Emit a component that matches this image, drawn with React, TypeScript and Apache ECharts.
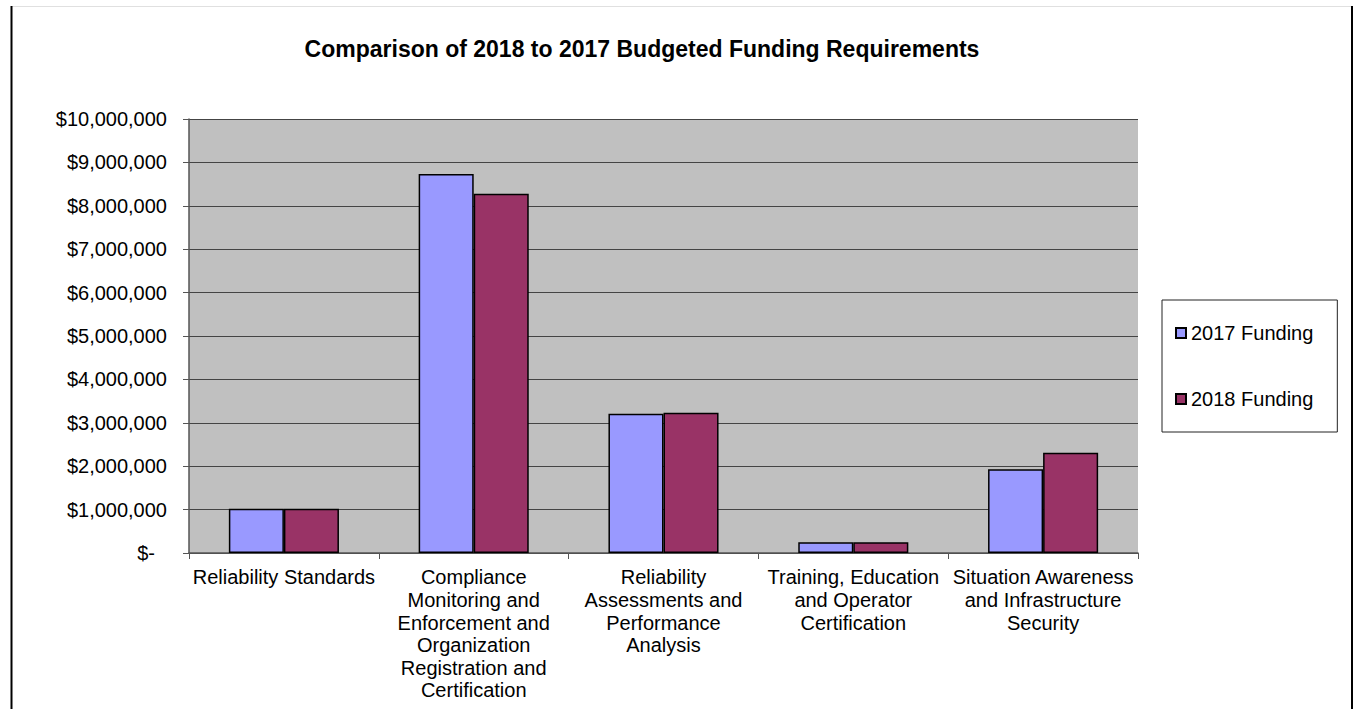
import React, { useEffect, useRef } from "react";
import * as echarts from "echarts";

const categories = [
  "Reliability Standards",
  "Compliance\nMonitoring and\nEnforcement and\nOrganization\nRegistration and\nCertification",
  "Reliability\nAssessments and\nPerformance\nAnalysis",
  "Training, Education\nand Operator\nCertification",
  "Situation Awareness\nand Infrastructure\nSecurity",
];
const funding2017 = [1020000, 8730000, 3210000, 250000, 1930000];
const funding2018 = [1020000, 8280000, 3230000, 250000, 2310000];
const seriesNames = ["2017 Funding", "2018 Funding"];
const titleText = "Comparison of 2018 to 2017 Budgeted Funding Requirements";

const FONT = "'Liberation Sans', Arial, sans-serif";

export default function App() {
  const ref = useRef<HTMLDivElement>(null);
  useEffect(() => {
    if (!ref.current) return;
    const chart = echarts.init(ref.current, null, { renderer: "svg" });
    chart.setOption({
      animation: false,
      backgroundColor: "#ffffff",
      title: {
        text: titleText,
        left: 637,
        textAlign: "center",
        top: 32,
        textStyle: { fontFamily: FONT, fontSize: 23, fontWeight: "bold", color: "#000" },
      },
      legend: {
        orient: "vertical",
        left: 1162,
        top: 300,
        padding: [22, 24, 22, 13],
        itemGap: 44,
        itemWidth: 10,
        itemHeight: 10,
        icon: "rect",
        backgroundColor: "#fff",
        borderColor: "#222",
        borderWidth: 1,
        borderRadius: 0,
        textStyle: { fontFamily: FONT, fontSize: 20, color: "#000", lineHeight: 22 },
        data: seriesNames,
      },
      grid: {
        left: 189,
        right: 218,
        top: 119,
        bottom: 156,
        show: true,
        backgroundColor: "#C0C0C0",
        borderWidth: 0,
      },
      xAxis: {
        type: "category",
        data: categories,
        axisLine: { show: true, lineStyle: { color: "#555", width: 1.5 } },
        axisTick: { show: true, length: 6, lineStyle: { color: "#555" } },
        axisLabel: {
          interval: 0,
          margin: 13,
          fontFamily: FONT,
          fontSize: 20,
          lineHeight: 22.6,
          color: "#000",
          align: "center",
        },
      },
      yAxis: {
        type: "value",
        min: 0,
        max: 10000000,
        interval: 1000000,
        axisLine: { show: true, lineStyle: { color: "#555", width: 1.5 } },
        axisTick: { show: true, length: 6, lineStyle: { color: "#555" } },
        splitLine: { show: true, lineStyle: { color: "#444", width: 1.2 } },
        axisLabel: {
          margin: 22,
          fontFamily: FONT,
          fontSize: 20,
          color: "#000",
          formatter: (v: number) =>
            v === 0 ? "{z|$-}" : "$" + v.toLocaleString("en-US"),
          rich: { z: { fontFamily: FONT, fontSize: 20, color: "#000", padding: [0, 12, 0, 0] } },
        },
      },
      series: [
        {
          name: seriesNames[0],
          type: "bar",
          data: funding2017,
          barGap: "0%",
          barCategoryGap: "42%",
          itemStyle: { color: "#9999FF", borderColor: "#000", borderWidth: 1.5 },
        },
        {
          name: seriesNames[1],
          type: "bar",
          data: funding2018,
          barGap: "0%",
          barCategoryGap: "42%",
          itemStyle: { color: "#993366", borderColor: "#000", borderWidth: 1.5 },
        },
      ],
      graphic: [
        { type: "line", shape: { x1: 12, y1: 6.5, x2: 1352, y2: 6.5 }, style: { stroke: "#e0e0e0", lineWidth: 1 } },
        { type: "line", shape: { x1: 11.5, y1: 6, x2: 11.5, y2: 709 }, style: { stroke: "#000", lineWidth: 2 } },
        { type: "line", shape: { x1: 1352, y1: 6, x2: 1352, y2: 709 }, style: { stroke: "#000", lineWidth: 2 } },
      ],
    });
    return () => chart.dispose();
  }, []);
  return (
    <div
      ref={ref}
      style={{ position: "absolute", left: 0, top: 0, width: 1356, height: 709 }}
    />
  );
}
